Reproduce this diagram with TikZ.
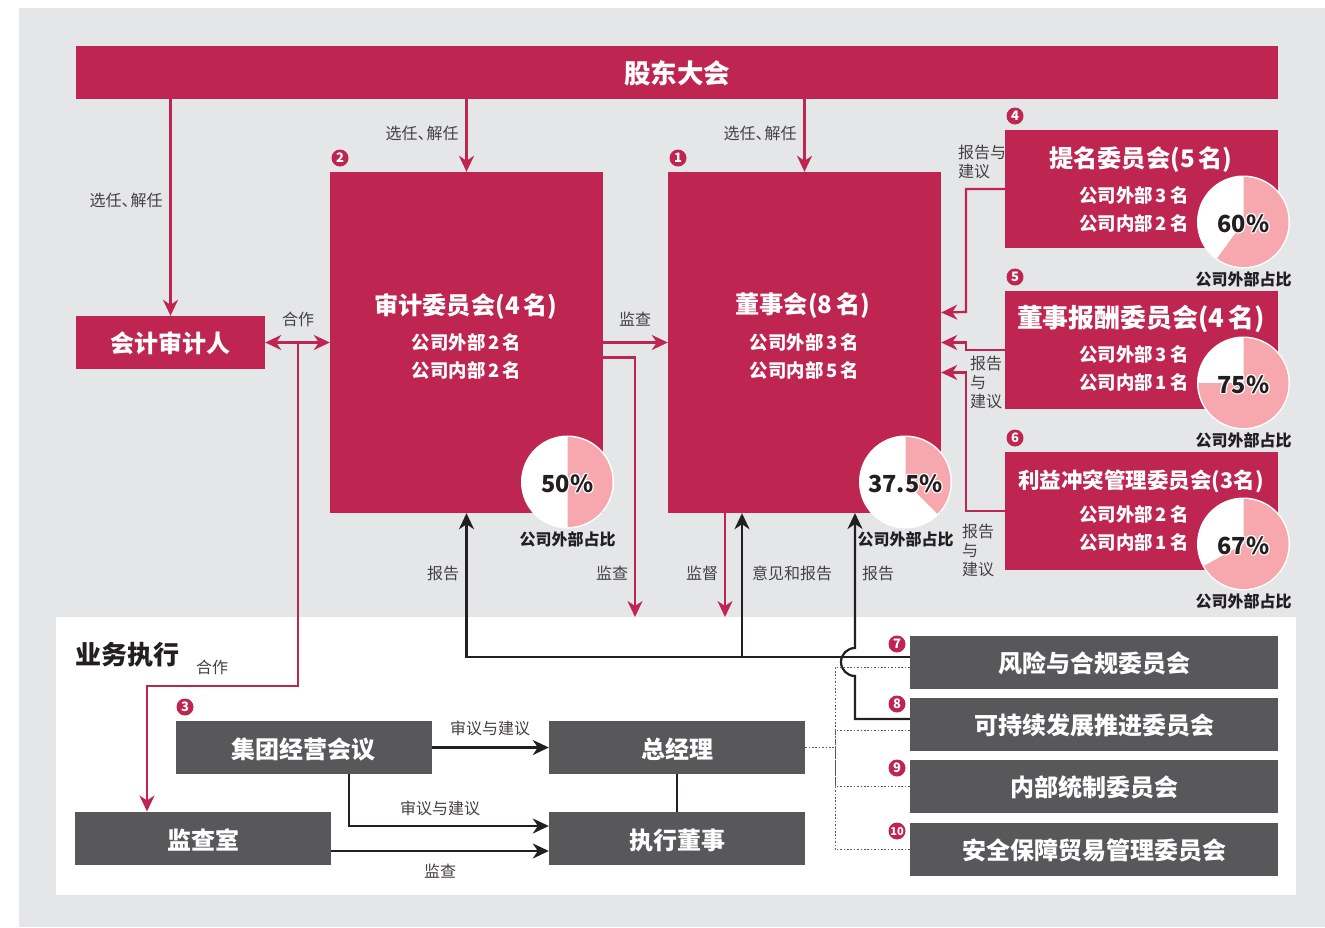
\documentclass[tikz,border=0pt]{standalone}
\usepackage{fontspec}
\setmainfont{Noto Sans CJK SC}
\usetikzlibrary{arrows.meta}
\definecolor{crimson}{HTML}{BE2551}
\definecolor{slate}{HTML}{58585A}
\definecolor{panelgrey}{HTML}{E5E6E8}
\definecolor{rose}{HTML}{F7A8AE}
\definecolor{ink}{HTML}{231F20}
\tikzset{
  redbox/.style={fill=crimson,inner sep=0pt},
  greybox/.style={fill=slate,inner sep=0pt},
  boxname/.style={text=white,inner sep=0pt,font=\fontsize{24}{24}\selectfont\bfseries},
  title/.style={text=white,inner sep=0pt,font=\fontsize{24.2}{25}\selectfont\bfseries},
  subline/.style={text=white,inner sep=0pt,font=\fontsize{18.4}{18}\selectfont\bfseries},
  note/.style={text=ink!85,inner sep=0pt,font=\fontsize{16}{16}\selectfont},
  stack/.style={text=ink!85,inner sep=0pt,anchor=west,align=left,font=\fontsize{16}{19}\selectfont},
  share/.style={text=ink,inner sep=0pt,font=\fontsize{16}{16}\selectfont\bfseries},
  badge/.style={circle,fill=crimson,text=white,inner sep=0pt,minimum size=17pt,font=\fontsize{13}{13}\selectfont\bfseries},
  redline/.style={draw=crimson,line width=2.2pt,-{Stealth[length=16pt,width=15pt,inset=5pt]}},
  inkline/.style={draw=ink,line width=2.2pt,-{Stealth[length=16pt,width=15pt,inset=5pt]}},
  dots/.style={draw=slate,line width=.9pt,dash pattern=on 1.6pt off 1.8pt},
}
\begin{document}
\begin{tikzpicture}[x=1pt,y=-1pt]
  \useasboundingbox (0,0) rectangle (1325,927);
  \fill[panelgrey] (19,8) rectangle (1325,927);
  \fill[white] (56,617) rectangle (1296,895);
  % red boxes
  \node[redbox,minimum width=1202pt,minimum height=53pt] (meeting) at (677,72.5) {};
  \node[redbox,minimum width=189pt,minimum height=53pt] (auditor) at (170.5,342.5) {};
  \node[redbox,minimum width=273pt,minimum height=341pt] (audit) at (466.5,342.5) {};
  \node[redbox,minimum width=273pt,minimum height=341pt] (board) at (804.5,342.5) {};
  \node[redbox,minimum width=273pt,minimum height=118pt] (nomination) at (1141.5,189) {};
  \node[redbox,minimum width=273pt,minimum height=118pt] (reward) at (1141.5,350) {};
  \node[redbox,minimum width=273pt,minimum height=118pt] (conflict) at (1141.5,511) {};
  % grey boxes
  \node[greybox,minimum width=368pt,minimum height=53pt] (risk) at (1094,662.5) {};
  \node[greybox,minimum width=368pt,minimum height=53pt] (growth) at (1094,724.5) {};
  \node[greybox,minimum width=368pt,minimum height=53pt] (control) at (1094,786.5) {};
  \node[greybox,minimum width=368pt,minimum height=53pt] (trade) at (1094,849.5) {};
  \node[greybox,minimum width=256pt,minimum height=53pt] (group) at (304,747.5) {};
  \node[greybox,minimum width=256pt,minimum height=53pt] (manager) at (677,747.5) {};
  \node[greybox,minimum width=256pt,minimum height=53pt] (inspect) at (203,838.5) {};
  \node[greybox,minimum width=256pt,minimum height=53pt] (director) at (677,838.5) {};
  % box names
  \node[boxname,font=\fontsize{26.5}{26}\selectfont\bfseries] (meetingName) at (677,73) {股东大会};
  \foreach \name/\x/\y/\txt in {auditorName/170/343.3/会计审计人,riskName/1094/663.3/风险与合规委员会,
    growthName/1094/725.5/可持续发展推进委员会,controlName/1094/787.5/内部统制委员会,tradeName/1094/850.5/安全保障贸易管理委员会,
    groupName/303.5/749/集团经营会议,managerName/677/749/总经理,inspectName/203/840/监查室,directorName/677/840/执行董事}{%
    \node[boxname] (\name) at (\x,\y) {\txt};
  }
  % titles and member counts
  \node[title] (auditTitle) at (466,306) {审计委员会(4\thinspace 名)};
  \node[title] (boardTitle) at (803,306) {董事会(8\thinspace 名)};
  \node[title] (nominationTitle) at (1141,159.5) {提名委员会(5\thinspace 名)};
  \node[title,font=\fontsize{25.9}{25}\selectfont\bfseries] (rewardTitle) at (1141,319) {董事报酬委员会(4\thinspace 名)};
  \node[title,font=\fontsize{21.5}{25}\selectfont\bfseries] (conflictTitle) at (1141,481) {利益冲突管理委员会(3名)};
  \foreach \name/\x/\y/\txt in {auditOut/466.5/342.3/公司外部\thinspace 2\thinspace 名,auditIn/466.5/370.3/公司内部\thinspace 2\thinspace 名,
    boardOut/804.5/342.3/公司外部\thinspace 3\thinspace 名,boardIn/804.5/370.3/公司内部\thinspace 5\thinspace 名,
    nominationOut/1134/195.3/公司外部\thinspace 3\thinspace 名,nominationIn/1134/223.3/公司内部\thinspace 2\thinspace 名,
    rewardOut/1134/354.3/公司外部\thinspace 3\thinspace 名,rewardIn/1134/382.3/公司内部\thinspace 1\thinspace 名,
    conflictOut/1134/514.3/公司外部\thinspace 2\thinspace 名,conflictIn/1134/542.3/公司内部\thinspace 1\thinspace 名}{%
    \node[subline] (\name) at (\x,\y) {\txt};
  }
  % pies, the rose part runs clockwise from the top
  \foreach \name/\x/\y/\ang/\pct in {audit/567.5/482/180/50\%,board/905.5/482/135/37.5\%,nomination/1243.5/222/216/60\%,
    reward/1243.5/383/270/75\%,conflict/1243.5/544/241/67\%}{%
    \node[circle,fill=white,minimum size=93pt,inner sep=0pt] (pie\name) at (\x,\y) {};
    \fill[rose] (pie\name.center) -- ++(90:45pt) arc[start angle=90,delta angle=-\ang,radius=45pt] -- cycle;
    \foreach \dx/\dy in {-1/0,1/0,0/-1,0/1,-.8/-.8,.8/-.8,-.8/.8,.8/.8}{%
      \node[text=white,inner sep=0pt,font=\fontsize{23.5}{25}\selectfont\bfseries] at (\x+\dx,\y+1.5+\dy) {\pct};
    }
    \node[text=ink,inner sep=0pt,font=\fontsize{23.5}{25}\selectfont\bfseries] (pct\name) at (\x,\y+1.5) {\pct};
    \node[share] (share\name) at (\x,\y+57) {公司外部占比};
  }
  % badges
  \foreach \num/\x/\y in {1/678/158,2/340/158,3/185/707,4/1015/116,5/1015/277,6/1015/438,7/897/644,8/897/704,9/897/768}{%
    \node[badge] (badge\num) at (\x,\y) {\num};
  }
  \node[badge,font=\fontsize{11}{11}\selectfont\bfseries] (badge10) at (897,831) {10};
  % red connectors
  \draw[redline] (meeting.south -| auditor.north)--(auditor.north);
  \draw[redline] (meeting.south -| audit.north)--(audit.north);
  \draw[redline] (meeting.south -| board.north)--(board.north);
  \draw[redline,{Stealth[length=16pt,width=15pt,inset=5pt]}-{Stealth[length=16pt,width=15pt,inset=5pt]}] (auditor.east)--(audit.west);
  \draw[redline] (audit.east)--(board.west);
  \coordinate (joint) at (298,342.5);
  \coordinate (inspectTop) at (147,811.5);
  \draw[redline] (joint)--(298,686)--(147,686)--(inspectTop);
  \coordinate (checkEnd) at (635,617);
  \coordinate (superviseEnd) at (725,617);
  \draw[redline] ([yshift=-15pt]audit.east)-|(checkEnd);
  \draw[redline] (superviseEnd |- board.south)--(superviseEnd);
  \draw[redline] (nomination.west)--(966,189)--(966,312)--([yshift=30pt]board.east);
  \draw[redline] (reward.west)--(966,350)--(966,342.5)--(board.east);
  \draw[redline] (conflict.west)--(966,511)--(966,372.5)--([yshift=-30pt]board.east);
  % black connectors
  \coordinate (opinion) at (742,657);
  \draw[inkline] ([yshift=5.5pt]risk.west)-|(audit.south);
  \draw[inkline] (opinion)--(opinion |- board.south);
  \draw[inkline] ([yshift=5.5pt]growth.west)--(855,719)--(855,676) arc[start angle=-90,delta angle=-180,radius=14pt]--(855,513);
  \draw[inkline] (group.east)--(manager.west);
  \coordinate (reviewStart) at (349,774);
  \draw[inkline] (reviewStart)--(349,826)--([yshift=12.5pt]director.west);
  \draw[inkline] ([yshift=-12.5pt]inspect.east)--([yshift=-12.5pt]director.west);
  \draw[ink,line width=2.2pt] (manager.south)--(director.north);
  % dotted links
  \coordinate (hub) at (835,747.5);
  \draw[dots] (manager.east)--(hub);
  \draw[dots] ([yshift=-5pt]risk.west)-|(hub);
  \draw[dots] ([yshift=-5.5pt]growth.west)-|(hub);
  \draw[dots] (control.west)-|(hub);
  \draw[dots] (trade.west)-|(hub);
  % labels
  \node[inner sep=0pt,text=ink,anchor=west,font=\fontsize{26}{26}\selectfont\bfseries] (business) at (75.5,655) {业务执行};
  \foreach \name/\x/\y/\txt in {noteA/126/200/选任、\kern-7pt解任,noteB/422/133/选任、\kern-7pt解任,noteC/760/133/选任、\kern-7pt解任,
    noteD/298/319/合作,noteE/212/667/合作,noteF/635/319/监查,noteG/443/573/报告,noteH/612/573/监查,noteI/702/573/监督,
    noteJ/792/573/意见和报告,noteK/878/573/报告,noteL/490/728/审议与建议,noteM/440/808/审议与建议,noteN/440/871/监查}{%
    \node[note] (\name) at (\x,\y) {\txt};
  }
  \node[stack] (stackA) at (958,162) {报告与\\建议};
  \node[stack] (stackB) at (970,382) {报告\\与\\建议};
  \node[stack] (stackC) at (962,550) {报告\\与\\建议};
\end{tikzpicture}
\end{document}
